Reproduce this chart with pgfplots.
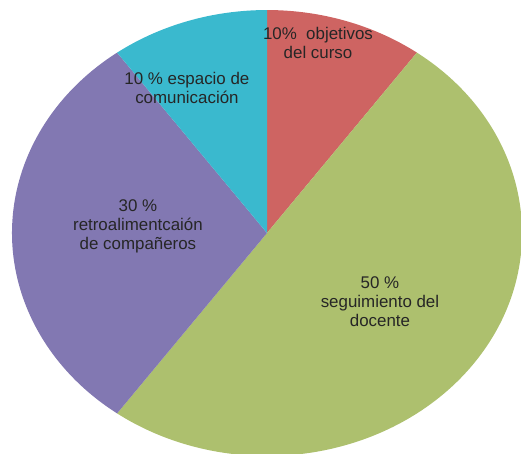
\documentclass[border=0pt]{standalone}
\usepackage{pgfplots}
\pgfplotsset{compat=1.18}
\usepackage{fontspec}
\setmainfont{Liberation Sans}

\definecolor{cred}{RGB}{206,100,98}
\definecolor{cgreen}{RGB}{173,192,110}
\definecolor{cpurple}{RGB}{130,120,178}
\definecolor{ccyan}{RGB}{58,185,206}

\tikzset{lbl/.style={font=\fontsize{12}{13.6}\selectfont, text=black!85, align=center}}

\begin{document}
\begin{tikzpicture}
\begin{axis}[
    hide axis,
    scale only axis,
    width=13cm, height=11.328cm,
    xmin=-1.047, xmax=0.996,
    ymin=-0.991, ymax=1.045,
    clip=true,
  ]
  % slices clockwise from the top, values in percent
  \gdef\curangle{90}
  \foreach \v/\c in {10/cred, 50/cgreen, 30/cpurple, 10/ccyan}{
    \pgfmathsetmacro\e{\curangle-3.6*\v}
    \pgfmathsetmacro\xs{cos(\curangle)}
    \pgfmathsetmacro\ys{sin(\curangle)}
    \edef\temp{\noexpand\fill[\c] (axis cs:0,0) -- (axis cs:\xs,\ys)
      arc[start angle=\curangle, end angle=\e, x radius=1, y radius=1] -- cycle;}
    \temp
    \xdef\curangle{\e}
  }
  \node[lbl] at (axis cs:0.2,0.852) {10\%\ \ objetivos\\del curso};
  \node[lbl] at (axis cs:-0.314,0.650) {10 \% espacio de\\comunicación};
  \node[lbl] at (axis cs:-0.506,0.031) {30 \%\\retroalimentcaión\\de compañeros};
  \node[lbl] at (axis cs:0.443,-0.309) {50 \%\\seguimiento del\\docente};
\end{axis}
\pgfresetboundingbox
\path (current axis.south west) rectangle (current axis.north east);
\end{tikzpicture}
\end{document}
